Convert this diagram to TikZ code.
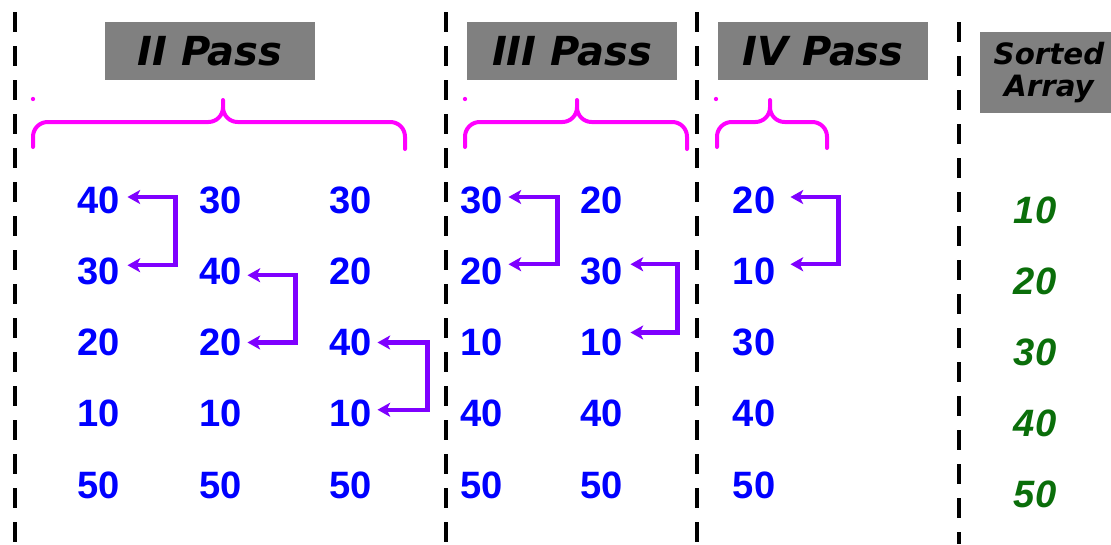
\documentclass[tikz,border=0pt]{standalone}
\usepackage{fontspec}
\setmainfont{Liberation Sans}
\newfontfamily\passfont{DejaVu Sans}
\usetikzlibrary{arrows.meta}
\definecolor{numblue}{RGB}{0,0,255}
\definecolor{sortgreen}{RGB}{10,110,10}
\definecolor{swpurple}{RGB}{127,0,255}
\definecolor{bracemag}{RGB}{255,0,255}
\definecolor{boxgray}{RGB}{128,128,128}
\tikzset{
  num/.style={inner sep=0pt, text=numblue, font=\fontsize{28.6}{34}\selectfont\bfseries},
  sortnum/.style={inner sep=0pt, text=sortgreen, font=\fontsize{28.6}{34}\selectfont\bfseries\itshape},
  passbox/.style={fill=boxgray, inner sep=0pt, minimum width=157.5pt, minimum height=43.5pt,
    font=\passfont\fontsize{30}{36}\selectfont\bfseries\itshape, text=black},
  divider/.style={line width=3pt, black, dash pattern=on 15pt off 10.5pt},
  bracestroke/.style={line width=3pt, bracemag, rounded corners=11pt, line cap=round},
  swp/.style={line width=3.2pt, swpurple, {Stealth[length=9.5pt,width=10.5pt,inset=2.5pt]}-{Stealth[length=9.5pt,width=10.5pt,inset=2.5pt]}}
}
\begin{document}
\begin{tikzpicture}[x=0.75pt,y=-0.75pt]
\clip (0,0) rectangle (1111,544);
\fill[white] (0,0) rectangle (1111,544);
% dividers
\draw[divider] (15,12) -- (15,544);
\draw[divider] (446,12) -- (446,544);
\draw[divider] (697,12) -- (697,544);
\draw[divider] (959,22) -- (959,544);
% pass labels
\node[passbox] (p2) at (210,51) {II Pass};
\node[passbox] (p3) at (572,51) {III Pass};
\node[passbox] (p4) at (823,51) {IV Pass};
\node[fill=boxgray, inner sep=0pt, minimum width=103.5pt, minimum height=60.75pt, align=center,
  font=\passfont\fontsize{22}{26.5}\selectfont\bfseries\itshape] (ps) at (1049,72.5) {\raisebox{-3pt}{Sorted}\\Array};
% braces
\draw[bracestroke] (33,147) |- (223,122) -- (223,100) (223,100) -- (223,122) -| (405,149);
\draw[bracestroke] (465,147) |- (577,122) -- (577,100) (577,100) -- (577,122) -| (687,149);
\draw[bracestroke] (717,147) |- (770,122) -- (770,100) (770,100) -- (770,122) -| (827,148);
\fill[bracemag] (33,99) circle (1.6pt);
\fill[bracemag] (465,99) circle (1.6pt);
\fill[bracemag] (716,99) circle (1.6pt);
% numbers
\foreach \v [count=\i] in {40,30,20,10,50} \node[num] (a\i) at (99,{128.75+71.25*\i}) {\v};
\foreach \v [count=\i] in {30,40,20,10,50} \node[num] (b\i) at (221,{128.75+71.25*\i}) {\v};
\foreach \v [count=\i] in {30,20,40,10,50} \node[num] (c\i) at (351,{128.75+71.25*\i}) {\v};
\foreach \v [count=\i] in {30,20,10,40,50} \node[num] (d\i) at (482,{128.75+71.25*\i}) {\v};
\foreach \v [count=\i] in {20,30,10,40,50} \node[num] (e\i) at (602,{128.75+71.25*\i}) {\v};
\foreach \v [count=\i] in {20,10,30,40,50} \node[num] (f\i) at (754,{128.75+71.25*\i}) {\v};
\foreach \v [count=\i] in {10,20,30,40,50} \node[sortnum] (g\i) at (1035,{139+71*\i}) {\v};
% swap arrows
\draw[swp] ([xshift=5.25pt,yshift=2.25pt]a1.east) -- ++(48,0) |- ([xshift=5.25pt,yshift=4.5pt]a2.east);
\draw[swp] ([xshift=3.75pt,yshift=-3pt]b2.east) -- ++(48,0) |- ([xshift=3.75pt,yshift=0pt]b3.east);
\draw[swp] ([xshift=3.75pt,yshift=0pt]c3.east) -- ++(50,0) |- ([xshift=3.75pt,yshift=3pt]c4.east);
\draw[swp] ([xshift=3.75pt,yshift=2.25pt]d1.east) -- ++(49,0) |- ([xshift=3.75pt,yshift=5.25pt]d2.east);
\draw[swp] ([xshift=5.25pt,yshift=5.25pt]e2.east) -- ++(47,0) |- ([xshift=5.25pt,yshift=7.5pt]e3.east);
\draw[swp] ([xshift=11.25pt,yshift=2.25pt]f1.east) -- ++(48,0) |- ([xshift=11.25pt,yshift=5.25pt]f2.east);
\end{tikzpicture}
\end{document}
